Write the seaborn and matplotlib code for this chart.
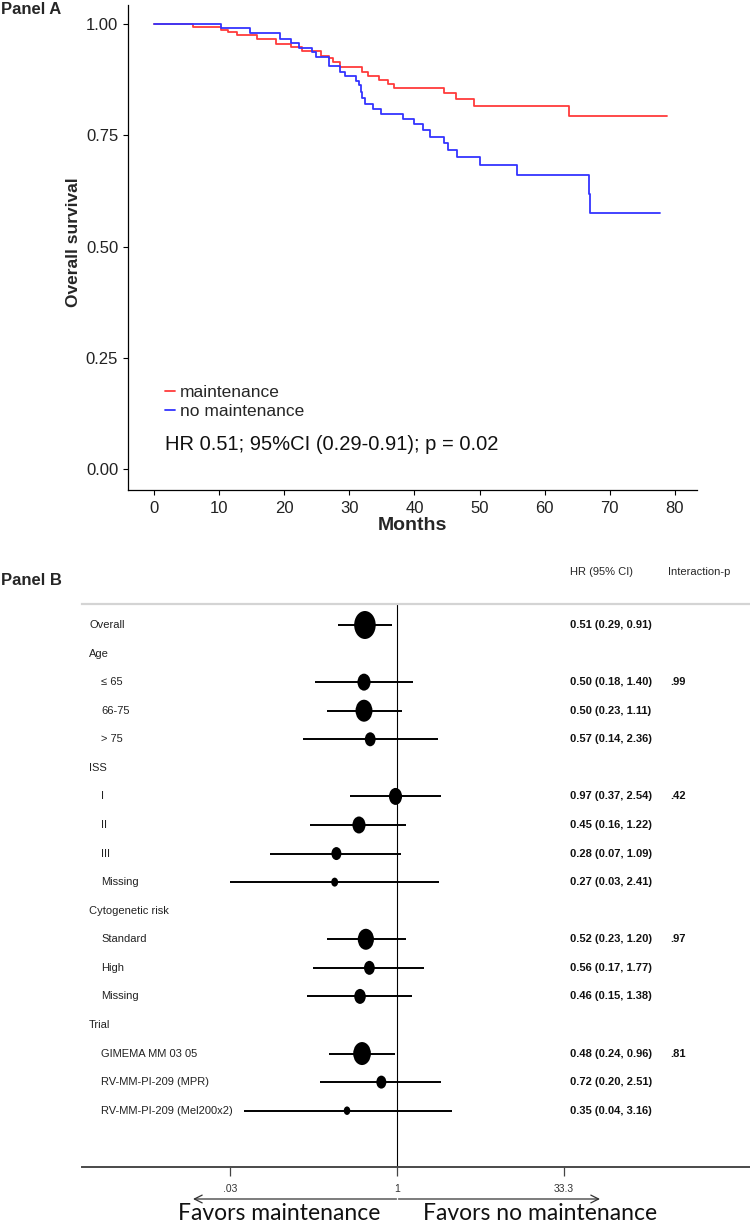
import numpy as np
import pandas as pd
import seaborn as sns
import matplotlib.pyplot as plt
from matplotlib.path import Path
from matplotlib.lines import Line2D
from matplotlib.transforms import Affine2D, blended_transform_factory
from matplotlib import font_manager

# Panel A - Kaplan-Meier steps
maint_months = [0, 6.0, 10.3, 11.3, 12.8, 15.8, 18.7, 21.1, 22.8, 25.6, 26.8, 27.5,
                28.6, 31.9, 32.8, 34.5, 36.0, 36.9, 44.5, 46.4, 49.1, 63.8, 78.8]
maint_surv = [1.0, 0.993, 0.987, 0.983, 0.976, 0.966, 0.956, 0.948, 0.940, 0.929, 0.924, 0.914,
              0.903, 0.893, 0.884, 0.875, 0.865, 0.856, 0.845, 0.831, 0.816, 0.793, 0.793]
nomaint_months = [0, 10.3, 14.8, 19.3, 21.0, 22.3, 24.2, 24.9, 26.9, 28.6, 29.4, 31.0, 31.5,
                  31.8, 32.0, 32.4, 33.7, 34.8, 38.3, 39.9, 41.3, 42.4, 44.5, 45.1, 46.5,
                  50.1, 55.8, 66.8, 66.9, 77.7]
nomaint_surv = [1.0, 0.991, 0.980, 0.967, 0.957, 0.947, 0.937, 0.926, 0.905, 0.893, 0.884, 0.873,
                0.864, 0.848, 0.834, 0.820, 0.809, 0.798, 0.787, 0.775, 0.762, 0.747, 0.732,
                0.717, 0.702, 0.683, 0.662, 0.618, 0.575, 0.575]
hr_note = "HR 0.51; 95%CI (0.29-0.91); p = 0.02"

# Panel B - subgroup forest plot
labels = ["Overall", "Age", "≤ 65", "66-75", "> 75", "ISS", "I", "II", "III", "Missing",
          "Cytogenetic risk", "Standard", "High", "Missing", "Trial", "GIMEMA MM 03 05",
          "RV-MM-PI-209 (MPR)", "RV-MM-PI-209 (Mel200x2)"]
is_header = [True, True, False, False, False, True, False, False, False, False,
             True, False, False, False, True, False, False, False]
hr = [0.51, np.nan, 0.50, 0.50, 0.57, np.nan, 0.97, 0.45, 0.28, 0.27,
      np.nan, 0.52, 0.56, 0.46, np.nan, 0.48, 0.72, 0.35]
ci_low = [0.29, np.nan, 0.18, 0.23, 0.14, np.nan, 0.37, 0.16, 0.07, 0.03,
          np.nan, 0.23, 0.17, 0.15, np.nan, 0.24, 0.20, 0.04]
ci_high = [0.91, np.nan, 1.40, 1.11, 2.36, np.nan, 2.54, 1.22, 1.09, 2.41,
           np.nan, 1.20, 1.77, 1.38, np.nan, 0.96, 2.51, 3.16]
interaction_p = ["", "", ".99", "", "", "", ".42", "", "", "",
                 "", ".97", "", "", "", ".81", "", ""]
box_weight = [28, np.nan, 17, 22, 14, np.nan, 17, 17, 13, 9,
              np.nan, 21, 14, 15, np.nan, 23, 13, 8.5]
x_ticks = [1 / 33.3, 1, 33.3]
x_ticklabels = [".03", "1", "33.3"]

sns.set_theme(style="white")
names = {f.name for f in font_manager.fontManager.ttflist}
narrow = "Liberation Sans Narrow" if "Liberation Sans Narrow" in names else "Liberation Sans"
plt.rcParams["font.family"] = ["Liberation Sans", "DejaVu Sans"]
tick_size = 13 if narrow.endswith("Narrow") else 12

W, H = 750, 1226
fig = plt.figure(figsize=(W / 100, H / 100), dpi=100)


def fx(px):
    return px / W


def fy(py):
    return 1 - py / H


# ---------------- Panel A ----------------
axA = fig.add_axes([fx(128), fy(490), fx(697) - fx(128), fy(5) - fy(490)])
km = pd.concat([
    pd.DataFrame({"month": maint_months, "surv": maint_surv, "group": "maintenance"}),
    pd.DataFrame({"month": nomaint_months, "surv": nomaint_surv, "group": "no maintenance"}),
])
colors = {"maintenance": "#ff3b3b", "no maintenance": "#3434ff"}
sns.lineplot(data=km, x="month", y="surv", hue="group", palette=colors, estimator=None,
             drawstyle="steps-post", lw=1.3, legend=False, ax=axA)
axA.set_xlim(-4.0, 83.4)
axA.set_ylim(-0.047, 1.043)
axA.set_xticks(range(0, 81, 10))
axA.set_yticks([0, 0.25, 0.5, 0.75, 1.0])
axA.set_yticklabels(["0.00", "0.25", "0.50", "0.75", "1.00"])
for s in ["top", "right"]:
    axA.spines[s].set_visible(False)
for s in ["left", "bottom"]:
    axA.spines[s].set_color("black")
    axA.spines[s].set_linewidth(0.9)
axA.tick_params(axis="both", direction="out", length=3.6, width=0.8, color="black",
                labelsize=tick_size, labelcolor="#222222", left=True, bottom=True)
axA.tick_params(axis="y", pad=3.5)
axA.tick_params(axis="x", pad=4.5)
for t in axA.get_xticklabels() + axA.get_yticklabels():
    t.set_family([narrow, "DejaVu Sans"])
axA.set_xlabel("Months", fontsize=14, fontweight="bold", family=[narrow, "DejaVu Sans"])
axA.set_ylabel("Overall survival", fontsize=12.5, fontweight="bold", family=[narrow, "DejaVu Sans"])
axA.xaxis.set_label_coords(0.5, -0.056)
axA.yaxis.set_label_coords(-0.083, 0.51)

handles = [Line2D([], [], color=colors[g], lw=1.3) for g in colors]
axA.legend(handles, list(colors), loc="center left", bbox_to_anchor=(fx(165), fy(402)),
           bbox_transform=fig.transFigure, frameon=False, handlelength=0.6,
           handletextpad=0.25, borderpad=0, borderaxespad=0, labelspacing=0.25,
           prop={"family": [narrow, "DejaVu Sans"], "size": 12.5})
fig.text(fx(165), fy(444), hr_note, fontsize=14.5, ha="left", va="center", color="#111111")
fig.text(fx(1), fy(10), "Panel A", fontsize=12, fontweight="bold", ha="left", va="center")

# ---------------- Panel B ----------------
rows = np.arange(len(labels))
fp = pd.DataFrame({"row": rows, "label": labels, "header": is_header, "hr": hr,
                   "lo": ci_low, "hi": ci_high, "p": interaction_p, "w": box_weight})
est = fp.dropna(subset=["hr"])

axB = fig.add_axes([fx(82), fy(1167), 1 - fx(82), fy(604) - fy(1167)])
axB.set_xscale("log")
axB.set_xlim(np.exp(-6.62), np.exp(7.42))
row_px = 28.57
axB.set_ylim((1167 - 625) / row_px, (604 - 625) / row_px)

axB.axvline(1, color="black", lw=0.8, zorder=1)
axB.hlines(est["row"], est["lo"], est["hi"], color="black", lw=1.4, zorder=2)
ellipse = Path.unit_circle().transformed(Affine2D().scale(0.77, 1.0))
sns.scatterplot(data=est, x="hr", y="row", marker=ellipse, s=(est["w"] * 0.72) ** 2,
                color="black", edgecolor="black", linewidth=0, legend=False, zorder=3, ax=axB)
axB.set_xlabel("")
axB.set_ylabel("")
axB.set_yticks([])
axB.set_xticks(x_ticks)
axB.set_xticklabels(x_ticklabels)
axB.xaxis.set_minor_locator(plt.NullLocator())
axB.tick_params(axis="x", direction="out", length=6.5, width=0.9, color="#444444",
                labelsize=7.5, labelcolor="#333333", pad=6, bottom=True)
for s in ["left", "right"]:
    axB.spines[s].set_visible(False)
axB.spines["top"].set_color("#d4d4d4")
axB.spines["top"].set_linewidth(1.6)
axB.spines["bottom"].set_color("#4a4a4a")
axB.spines["bottom"].set_linewidth(1.4)

mix = blended_transform_factory(fig.transFigure, axB.transData)
for _, r in fp.iterrows():
    x0 = 89 if r["header"] else 101
    axB.text(fx(x0), r["row"], r["label"], transform=mix, fontsize=8, ha="left", va="center",
             color="#222222")
    if not np.isnan(r["hr"]):
        axB.text(fx(570), r["row"], f"{r['hr']:.2f} ({r['lo']:.2f}, {r['hi']:.2f})",
                 transform=mix, fontsize=8, fontweight="bold", ha="left", va="center",
                 color="#111111")
    if r["p"]:
        axB.text(fx(670), r["row"], r["p"], transform=mix, fontsize=8, fontweight="bold",
                 ha="left", va="center", color="#111111")

head_y = (572 - 625) / row_px
axB.text(fx(570), head_y, "HR (95% CI)", transform=mix, fontsize=8, ha="left", va="center")
axB.text(fx(668), head_y, "Interaction-p", transform=mix, fontsize=8, ha="left", va="center")
fig.text(fx(1), fy(581), "Panel B", fontsize=12, fontweight="bold", ha="left", va="center")

# direction arrows and captions under the forest axis
arrow = dict(arrowstyle="->", color="#333333", lw=0.9, shrinkA=0, shrinkB=0,
             mutation_scale=14)
fig.add_artist(plt.Annotation("", xy=(fx(193), fy(1199)), xytext=(fx(396.5), fy(1199)),
                              xycoords="figure fraction", arrowprops=arrow))
fig.add_artist(plt.Annotation("", xy=(fx(600), fy(1199)), xytext=(fx(398.5), fy(1199)),
                              xycoords="figure fraction", arrowprops=arrow))
fig.text(fx(279), fy(1214), "Favors maintenance", fontsize=16.5, family=["Lato", "DejaVu Sans"],
         ha="center", va="center", color="#111111")
fig.text(fx(540), fy(1214), "Favors no maintenance", fontsize=16.5, family=["Lato", "DejaVu Sans"],
         ha="center", va="center", color="#111111")

fig.savefig("out.png", dpi=100)
